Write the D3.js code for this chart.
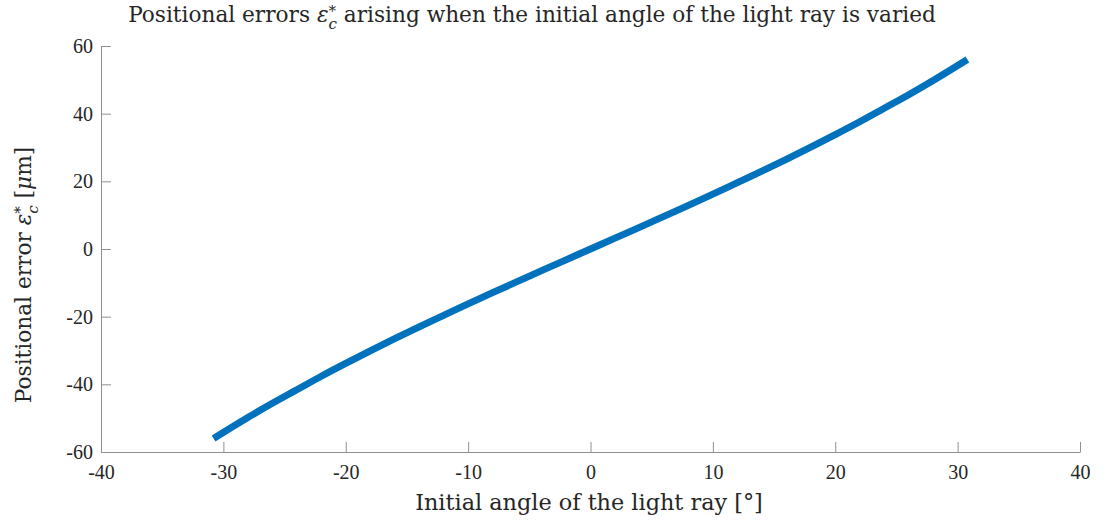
<!DOCTYPE html>
<html>
<head>
<meta charset="utf-8">
<script src="https://cdn.jsdelivr.net/npm/d3@7"></script>
<style>
  html, body { margin: 0; padding: 0; background: #fff; }
  svg { display: block; }
</style>
</head>
<body>
<svg id="chart" width="1106" height="525"></svg>
<script>
// Initial angle of the light ray [deg]
const angles = [-30.8, -28, -26, -24, -22, -20, -18, -16, -14, -12, -10, -8, -6, -4, -2,
                0, 2, 4, 6, 8, 10, 12, 14, 16, 18, 20, 22, 24, 26, 28, 30.8];
// Positional error [um]
const errors = [-56.0, -49.8, -45.6, -41.6, -37.6, -33.8, -30.1, -26.5, -23.0, -19.6, -16.2, -12.9, -9.65, -6.4, -3.2,
                0, 3.2, 6.4, 9.65, 12.9, 16.2, 19.6, 23.0, 26.5, 30.1, 33.8, 37.6, 41.6, 45.6, 49.8, 56.0];
const xTicks = [-40, -30, -20, -10, 0, 10, 20, 30, 40];
const yTicks = [-60, -40, -20, 0, 20, 40, 60];

const FONT = "'DejaVu Serif', 'Liberation Serif', serif";
const TICK_FONT = "'Liberation Serif', 'DejaVu Serif', serif";
const INK = "#262626";

const svg = d3.select("#chart");
const plotL = 101, plotR = 1080, plotT = 46, plotB = 452;

const x = d3.scaleLinear().domain([-40, 40]).range([plotL, plotR]);
const y = d3.scaleLinear().domain([-60, 60]).range([plotB, plotT]);

const axisColor = "#8f8f8f";
const tickLen = 10;
const tickSize = 20;

// scale a text element's font size so it spans the given width
function fitWidth(sel, width) {
  const base = parseFloat(sel.style("font-size"));
  const w = sel.node().getComputedTextLength();
  sel.style("font-size", (base * width / w) + "px");
}

// x axis (ticks pointing inward)
const gx = svg.append("g").attr("transform", `translate(0,${plotB})`)
  .call(d3.axisBottom(x).tickValues(xTicks).tickSizeInner(-tickLen).tickSizeOuter(0).tickPadding(13)
    .tickFormat(d => String(d)));
gx.select(".domain").attr("stroke", axisColor);
gx.selectAll(".tick line").attr("stroke", axisColor);
gx.selectAll(".tick text").style("font-size", tickSize + "px").style("fill", INK)
  .style("font-family", TICK_FONT);

// y axis
const gy = svg.append("g").attr("transform", `translate(${plotL},0)`)
  .call(d3.axisLeft(y).tickValues(yTicks).tickSizeInner(-tickLen).tickSizeOuter(0).tickPadding(8)
    .tickFormat(d => String(d)));
gy.select(".domain").attr("stroke", axisColor);
gy.selectAll(".tick line").attr("stroke", axisColor);
gy.selectAll(".tick text").style("font-size", tickSize + "px").style("fill", INK)
  .style("font-family", TICK_FONT);

// curve
const pts = angles.map((a, i) => [a, errors[i]]);
svg.append("path")
  .datum(pts)
  .attr("fill", "none")
  .attr("stroke", "#0072BD")
  .attr("stroke-width", 7)
  .attr("stroke-linecap", "butt")
  .attr("d", d3.line().x(d => x(d[0])).y(d => y(d[1])).curve(d3.curveMonotoneX));

// epsilon with subscript c and superscript *; returns the dy that restores the baseline
function addEps(t) {
  t.append("tspan").style("font-style", "italic").text("ε");
  t.append("tspan").style("font-size", "0.7em").attr("dy", "-0.4em").text("*");
  t.append("tspan").style("font-size", "0.7em").style("font-style", "italic")
    .attr("dx", "-0.5em").attr("dy", "0.85em").text("c");
  return "-0.315em";
}

function label(xp, yp, transform) {
  const t = svg.append("text").style("font-family", FONT).style("fill", INK)
    .style("font-size", "20px").attr("text-anchor", "middle");
  if (transform) t.attr("transform", transform); else t.attr("x", xp).attr("y", yp);
  return t;
}

// title
const title = label(532, 22);
title.append("tspan").text("Positional errors ");
let back = addEps(title);
title.append("tspan").attr("dy", back).text(" arising when the initial angle of the light ray is varied");
fitWidth(title, 816);

// x label
const xl = label(589, 510).text("Initial angle of the light ray [°]");
fitWidth(xl, 348);

// y label
const yl = label(0, 0, "translate(31,275) rotate(-90)");
yl.append("tspan").text("Positional error ");
back = addEps(yl);
yl.append("tspan").attr("dy", back).text(" [");
yl.append("tspan").style("font-style", "italic").text("μ");
yl.append("tspan").text("m]");
fitWidth(yl, 264);
</script>
</body>
</html>
